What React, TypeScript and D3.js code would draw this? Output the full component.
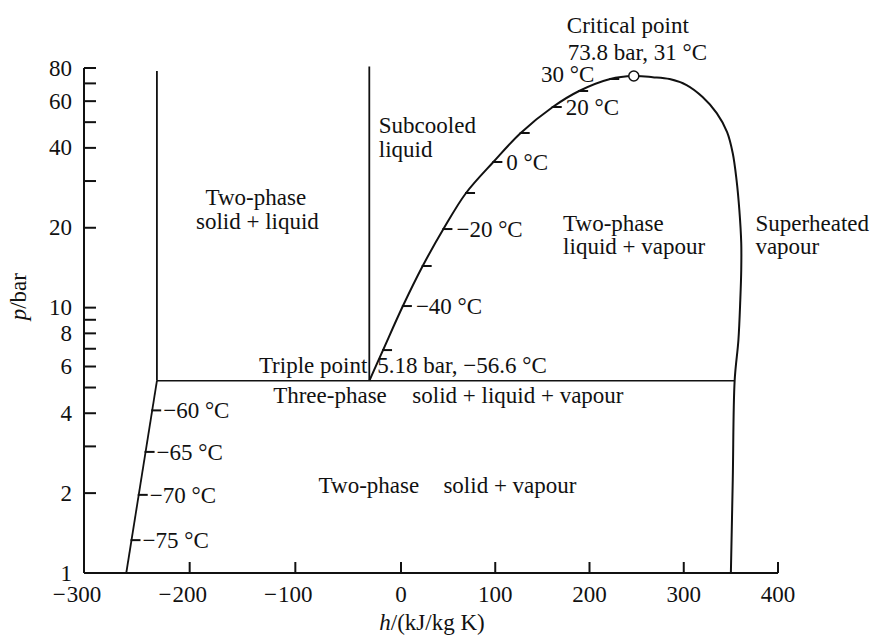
import * as d3 from 'd3'

const W = 875
const H = 637

// axes
const hTicks = [-300, -200, -100, 0, 100, 200, 300, 400]
const pTicks = [1, 2, 3, 4, 5, 6, 7, 8, 9, 10, 20, 30, 40, 50, 60, 70, 80]
const pLabels = [1, 2, 4, 6, 8, 10, 20, 40, 60, 80]

// saturated liquid line, triple point -> critical point (h in kJ/kg, p in bar)
const liquidH = [-30, -17, 2, 23, 45, 69, 98, 127, 161, 189, 222, 247]
const liquidP = [5.3, 6.92, 10.14, 14.35, 19.78, 27.04, 35.39, 45.51, 57.03, 65.53, 72.71, 74.6]

// saturated vapour line, critical point -> 1 bar
const vapourH = [247, 267, 285, 303, 320, 335, 346, 352, 356, 359, 361, 361, 360, 358, 354, 352, 350]
const vapourP = [74.6, 73.9, 72.7, 69.0, 62.2, 54.1, 45.9, 38.2, 30.3, 23.3, 17.5, 13.9, 10.7, 7.55, 5.3, 2.24, 1]

// solid boundary below the triple point
const solidH = [-260, -231]
const solidP = [1, 5.3]

// the two vertical boundaries above the triple point
const meltH = [-231, -30]
const meltTopP = [78, 81]

const tripleP = 5.3
const critH = 247
const critP = 74.6

// temperature marks
const liqMarkT = [-50, -40, -30, -20, -10, 0, 10, 20, 25, 30]
const liqMarkP = [6.92, 10.14, 14.35, 19.78, 27.04, 35.39, 45.51, 57.03, 65.53, 72.71]
const liqLabelT = [-40, -20, 0, 20]
const solMarkT = [-60, -65, -70, -75]
const solMarkP = [4.1, 2.86, 1.97, 1.33]

// region labels
const regionText = [
  'Two-phase', 'solid + liquid',
  'Subcooled', 'liquid',
  'Two-phase', 'liquid + vapour',
  'Superheated', 'vapour',
  'Three-phase', 'solid + liquid + vapour',
  'Two-phase', 'solid + vapour',
]
const regionH = [-185, -194, -21, -21, 172, 172, 376, 376, -121, 12, -78, 45]
const regionP = [24.4, 19.8, 45.5, 36.9, 19.4, 15.9, 19.4, 15.9, 4.37, 4.37, 2.0, 2.0]

const FONT = '"Liberation Serif", "Times New Roman", serif'
const FS = 23

const minus = (v: number) => (v < 0 ? `\u2212${Math.abs(v)}` : `${v}`)
const degC = (t: number) => `${minus(t)} \u00b0C`

export default function App() {
  // the printed h axis is not quite uniform: wider spacing left of zero
  const x = d3.scaleLinear().domain([-300, 0, 400]).range([84, 401, 778])
  const y = d3.scaleLog().domain([1, 80]).range([573, 68])

  const liqAt = d3.scaleLog().domain(liquidP).range(liquidH)
  const solAt = d3.scaleLog().domain(solidP).range(solidH)

  const line = d3
    .line<[number, number]>()
    .x((d) => x(d[0]))
    .y((d) => y(d[1]))
    .curve(d3.curveCatmullRom.alpha(0.5))

  const dome: [number, number][] = [
    ...liquidH.map((h, i) => [h, liquidP[i]] as [number, number]),
    ...vapourH.slice(1).map((h, i) => [h, vapourP[i + 1]] as [number, number]),
  ]

  const x0 = x(-300)
  const y0 = y(1)
  const tx = x(-30)
  const ty = y(tripleP)
  const cx = x(critH)
  const cy = y(critP)

  return (
    <svg
      width={W}
      height={H}
      style={{ position: 'absolute', left: 0, top: 0, background: '#fff' }}
      fontFamily={FONT}
      fontSize={FS}
    >
      <rect width={W} height={H} fill="#fff" />

      {/* y axis */}
      <line x1={x0} x2={x0} y1={y(80)} y2={y0} stroke="#111" strokeWidth={2} />
      {pTicks.map((p) => (
        <line key={p} x1={x0} x2={x0 + 12} y1={y(p)} y2={y(p)} stroke="#111" strokeWidth={2} />
      ))}
      {pLabels.map((p) => (
        <text key={p} x={x0 - 12} y={y(p)} dy="0.33em" textAnchor="end" fill="#111">
          {p}
        </text>
      ))}
      <text transform={`translate(${x0 - 58},${y(11)}) rotate(-90)`} textAnchor="middle" fill="#111">
        <tspan fontStyle="italic">p</tspan>/bar
      </text>

      {/* x axis */}
      <line x1={x0} x2={x(400)} y1={y0} y2={y0} stroke="#111" strokeWidth={2} />
      {hTicks.slice(1).map((h) => (
        <line key={h} x1={x(h)} x2={x(h)} y1={y0} y2={y0 - 11} stroke="#111" strokeWidth={2} />
      ))}
      {hTicks.map((h) => (
        <g key={h}>
          <text x={x(h)} y={y0 + 29} textAnchor="middle" fill="#111">
            {Math.abs(h)}
          </text>
          {h < 0 && (
            <text x={x(h) - String(Math.abs(h)).length * FS * 0.25 - 1} y={y0 + 29} textAnchor="end" fill="#111">
              {'\u2212'}
            </text>
          )}
        </g>
      ))}
      <text x={432} y={630} textAnchor="middle" fill="#111">
        <tspan fontStyle="italic">h</tspan>/(kJ/kg K)
      </text>

      {/* phase boundaries */}
      <g fill="none" stroke="#111" strokeWidth={2}>
        <path d={line(dome) || ''} />
        <path d={line(solidH.map((h, i) => [h, solidP[i]] as [number, number])) || ''} strokeWidth={1.8} />
        {meltH.map((h, i) => (
          <line key={h} x1={x(h)} x2={x(h)} y1={y(tripleP)} y2={y(meltTopP[i])} strokeWidth={1.8} />
        ))}
        <line x1={x(solidH[1])} x2={x(vapourH[vapourP.indexOf(tripleP)])} y1={ty} y2={ty} strokeWidth={1.6} />
      </g>

      {/* temperature marks */}
      <g stroke="#111" strokeWidth={2}>
        {liqMarkP.map((p, i) => (
          <line key={liqMarkT[i]} x1={x(liqAt(p)) - 1} x2={x(liqAt(p)) + 9} y1={y(p)} y2={y(p)} />
        ))}
        {solMarkP.map((p, i) => (
          <line key={solMarkT[i]} x1={x(solAt(p)) - 1} x2={x(solAt(p)) + 9} y1={y(p)} y2={y(p)} />
        ))}
      </g>
      <g fill="#111">
        {liqLabelT.map((t) => {
          const p = liqMarkP[liqMarkT.indexOf(t)]
          return (
            <text key={t} x={x(liqAt(p)) + 13} y={y(p) + 8}>
              {degC(t)}
            </text>
          )
        })}
        {(() => {
          const p = liqMarkP[liqMarkT.indexOf(30)]
          return (
            <text x={x(liqAt(p)) - 16} y={y(p) + 3} textAnchor="end">
              {degC(30)}
            </text>
          )
        })()}
        {solMarkP.map((p, i) => (
          <text key={solMarkT[i]} x={x(solAt(p)) + 11} y={y(p) + 8}>
            {degC(solMarkT[i])}
          </text>
        ))}
      </g>

      {/* critical point */}
      <circle cx={cx} cy={cy} r={5} fill="#fff" stroke="#111" strokeWidth={1.5} />
      <text x={cx - 67} y={cy - 43} fill="#111">Critical point</text>
      <text x={cx - 66} y={cy - 16} fill="#111">{`73.8 bar, 31 \u00b0C`}</text>

      {/* triple point */}
      <text x={tx - 2} y={ty - 8} textAnchor="end" fill="#111">Triple point</text>
      <text x={tx + 8} y={ty - 8} fill="#111">{`5.18 bar, \u221256.6 \u00b0C`}</text>

      {/* regions */}
      {regionText.map((s, i) => (
        <text key={i} x={x(regionH[i])} y={y(regionP[i])} fill="#111">
          {s}
        </text>
      ))}
    </svg>
  )
}
